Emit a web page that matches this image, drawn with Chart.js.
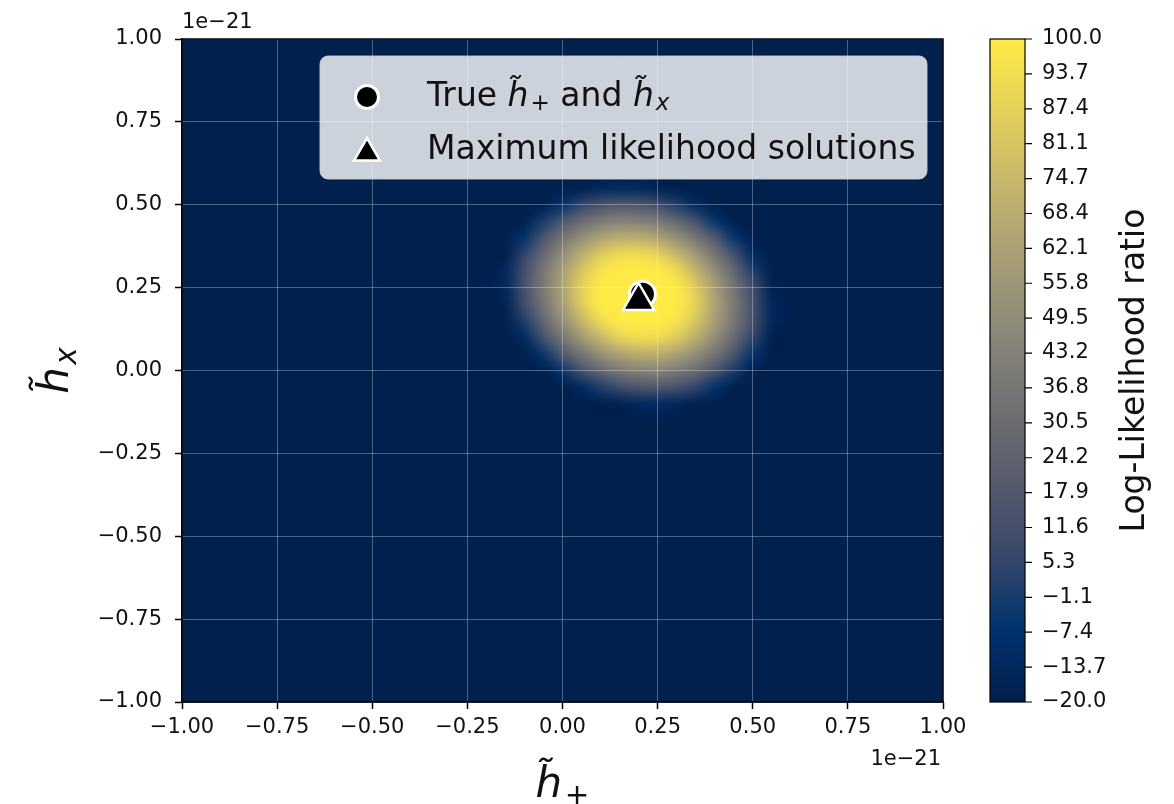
<!DOCTYPE html>
<html>
<head>
<meta charset="utf-8">
<script src="https://cdn.jsdelivr.net/npm/chart.js@4.4.1/dist/chart.umd.min.js"></script>
<style>
    html, body { margin: 0; padding: 0; background: #fff; }
    #wrap { width: 1174px; height: 804px; }
</style>
</head>
<body>
<div id="wrap"><canvas id="llrChart" width="1174" height="804"></canvas></div>
<script>
// sampled log-likelihood ratio map, axes in units of 1e-21
const hPlusGrid = [-0.20, -0.15, -0.10, -0.05, 0.00, 0.05, 0.10, 0.15, 0.20, 0.25, 0.30, 0.35, 0.40, 0.45, 0.50, 0.55, 0.60];
const hCrossGrid = [0.60, 0.55, 0.50, 0.45, 0.40, 0.35, 0.30, 0.25, 0.20, 0.15, 0.10, 0.05, 0.00, -0.05, -0.10, -0.15];
const logLikelihood = [
    [-20, -20, -20, -20, -20, -20, -20, -20, -20, -20, -20, -20, -20, -20, -20, -20, -20],
    [-20, -20, -20, -20, -20, -20, -15, -12, -14, -19, -20, -20, -20, -20, -20, -20, -20],
    [-20, -20, -20, -20, -7, 5, 13, 17, 16, 10, 0, -13, -20, -20, -20, -20, -20],
    [-20, -20, -20, -1, 16, 30, 39, 44, 43, 38, 27, 13, -5, -20, -20, -20, -20],
    [-20, -20, -6, 16, 35, 51, 62, 69, 69, 63, 52, 36, 18, -5, -20, -20, -20],
    [-20, -20, 5, 29, 50, 69, 84, 92, 93, 88, 74, 57, 36, 13, -12, -20, -20],
    [-20, -15, 12, 37, 60, 81, 96, 100, 100, 100, 92, 73, 51, 27, 1, -20, -20],
    [-20, -15, 13, 39, 63, 87, 100, 100, 100, 100, 100, 84, 60, 36, 10, -18, -20],
    [-20, -18, 10, 36, 60, 84, 100, 100, 100, 100, 100, 87, 63, 39, 13, -15, -20],
    [-20, -20, 1, 27, 51, 73, 92, 100, 100, 100, 96, 81, 60, 37, 12, -15, -20],
    [-20, -20, -12, 13, 36, 57, 74, 88, 93, 92, 84, 69, 50, 29, 5, -20, -20],
    [-20, -20, -20, -5, 18, 36, 52, 63, 69, 69, 62, 51, 35, 16, -6, -20, -20],
    [-20, -20, -20, -20, -5, 13, 27, 38, 43, 44, 39, 30, 16, -1, -20, -20, -20],
    [-20, -20, -20, -20, -20, -13, 0, 10, 16, 17, 13, 5, -7, -20, -20, -20, -20],
    [-20, -20, -20, -20, -20, -20, -20, -19, -14, -12, -15, -20, -20, -20, -20, -20, -20],
    [-20, -20, -20, -20, -20, -20, -20, -20, -20, -20, -20, -20, -20, -20, -20, -20, -20]
];

const trueHPlus = [0.21];
const trueHCross = [0.23];
const mlHPlus = [0.20];
const mlHCross = [0.21];

const axisTicks = [-1, -0.75, -0.5, -0.25, 0, 0.25, 0.5, 0.75, 1];
const axisTickLabels = ["\u22121.00", "\u22120.75", "\u22120.50", "\u22120.25", "0.00", "0.25", "0.50", "0.75", "1.00"];
const cbarTicks = [-20, -13.68, -7.37, -1.05, 5.26, 11.58, 17.89, 24.21, 30.53, 36.84, 43.16, 49.47, 55.79, 62.11, 68.42, 74.74, 81.05, 87.37, 93.68, 100];
const cbarTickLabels = ["\u221220.0", "\u221213.7", "\u22127.4", "\u22121.1", "5.3", "11.6", "17.9", "24.2", "30.5", "36.8", "43.2", "49.5", "55.8", "62.1", "68.4", "74.7", "81.1", "87.4", "93.7", "100.0"];
const cbarMin = -20;
const cbarMax = 100;

(function () {
    const FONT = "'DejaVu Sans', sans-serif";
    const cividis = ["#00204D", "#00336F", "#39486B", "#575C6D", "#707173", "#8A8779", "#A69D75", "#C4B56C", "#E4CF5B", "#FFEA46"];
    const cividisRgb = cividis.map(h => [1, 3, 5].map(i => parseInt(h.substr(i, 2), 16)));

    function colorFor(v) {
        let t = (v - cbarMin) / (cbarMax - cbarMin);
        t = Math.max(0, Math.min(1, t)) * (cividisRgb.length - 1);
        const i = Math.min(Math.floor(t), cividisRgb.length - 2);
        const f = t - i;
        const a = cividisRgb[i], b = cividisRgb[i + 1];
        return [0, 1, 2].map(k => Math.round(a[k] + (b[k] - a[k]) * f));
    }

    // split "h̃₊" style labels into runs: italic h with tilde, small subscripts
    function richRuns(text) {
        const runs = [];
        const re = /h\u0303|\u208A|\u2093|[^h\u208A\u2093]+|h/g;
        let m;
        while ((m = re.exec(text)) !== null) {
            const s = m[0];
            if (s === "h\u0303") runs.push({ t: s, italic: true, sub: false });
            else if (s === "\u208A") runs.push({ t: "+", italic: false, sub: true });
            else if (s === "\u2093") runs.push({ t: "x", italic: true, sub: true });
            else runs.push({ t: s, italic: false, sub: false });
        }
        return runs;
    }

    function runFont(r, size) {
        const sz = r.sub ? size * 0.7 : size;
        return (r.italic ? "italic " : "") + sz + "px " + FONT;
    }

    function richWidth(ctx, text, size) {
        let w = 0;
        richRuns(text).forEach(r => {
            ctx.font = runFont(r, size);
            w += ctx.measureText(r.t).width + (r.sub ? size * 0.06 : 0);
        });
        return w;
    }

    function drawRich(ctx, text, x, y, size) {
        richRuns(text).forEach(r => {
            ctx.font = runFont(r, size);
            if (r.sub) x += size * 0.06;
            ctx.fillText(r.t, x, y + (r.sub ? size * 0.2 : 0));
            x += ctx.measureText(r.t).width;
        });
    }

    // keep the plot box where the picture has it
    function noVerticalPad(s) { s.paddingTop = 0; s.paddingBottom = 0; }
    function noHorizontalPad(s) { s.paddingLeft = 0; s.paddingRight = 0; }

    const heatmapPlugin = {
        id: "heatmap",
        beforeDraw(chart) {
            const { ctx, chartArea: a } = chart;
            const xs = chart.scales.x, ys = chart.scales.y;
            const cols = hPlusGrid.length, rows = hCrossGrid.length;

            ctx.save();
            ctx.fillStyle = cividis[0];
            ctx.fillRect(a.left, a.top, a.right - a.left, a.bottom - a.top);

            const off = document.createElement("canvas");
            off.width = cols;
            off.height = rows;
            const octx = off.getContext("2d");
            const img = octx.createImageData(cols, rows);
            for (let r = 0; r < rows; r++) {
                for (let c = 0; c < cols; c++) {
                    const rgb = colorFor(logLikelihood[r][c]);
                    const p = (r * cols + c) * 4;
                    img.data[p] = rgb[0];
                    img.data[p + 1] = rgb[1];
                    img.data[p + 2] = rgb[2];
                    img.data[p + 3] = 255;
                }
            }
            octx.putImageData(img, 0, 0);

            const hx = (hPlusGrid[1] - hPlusGrid[0]) / 2;
            const hy = (hCrossGrid[0] - hCrossGrid[1]) / 2;
            const x0 = xs.getPixelForValue(hPlusGrid[0] - hx);
            const x1 = xs.getPixelForValue(hPlusGrid[cols - 1] + hx);
            const y0 = ys.getPixelForValue(hCrossGrid[0] + hy);
            const y1 = ys.getPixelForValue(hCrossGrid[rows - 1] - hy);

            ctx.beginPath();
            ctx.rect(a.left, a.top, a.right - a.left, a.bottom - a.top);
            ctx.clip();
            ctx.imageSmoothingEnabled = true;
            ctx.imageSmoothingQuality = "high";
            ctx.drawImage(off, x0, y0, x1 - x0, y1 - y0);
            ctx.restore();
        }
    };

    const decorPlugin = {
        id: "decor",
        afterDraw(chart) {
            const { ctx, chartArea: a } = chart;
            const cb = chart.scales.cb;
            ctx.save();

            // plot frame
            ctx.strokeStyle = "#000";
            ctx.lineWidth = 1.5;
            ctx.strokeRect(a.left, a.top, a.right - a.left, a.bottom - a.top);

            // colorbar
            const cbLeft = a.right + 47, cbWidth = 35;
            const top = cb.getPixelForValue(cbarMax), bot = cb.getPixelForValue(cbarMin);
            const grad = ctx.createLinearGradient(0, bot, 0, top);
            cividis.forEach((c, i) => grad.addColorStop(i / (cividis.length - 1), c));
            ctx.fillStyle = grad;
            ctx.fillRect(cbLeft, top, cbWidth, bot - top);
            ctx.lineWidth = 1.2;
            ctx.strokeRect(cbLeft, top, cbWidth, bot - top);
            ctx.beginPath();
            cbarTicks.forEach(v => {
                const py = cb.getPixelForValue(v);
                ctx.moveTo(cbLeft + cbWidth, py);
                ctx.lineTo(cbLeft + cbWidth + 7, py);
            });
            ctx.stroke();

            ctx.fillStyle = "#111";
            ctx.save();
            ctx.translate(1135, (top + bot) / 2);
            ctx.rotate(-Math.PI / 2);
            ctx.font = "33px " + FONT;
            ctx.textAlign = "center";
            ctx.textBaseline = "middle";
            ctx.fillText("Log-Likelihood ratio", 0, 0);
            ctx.restore();

            // offset texts
            ctx.font = "21px " + FONT;
            ctx.textBaseline = "middle";
            ctx.textAlign = "right";
            ctx.fillText("1e\u221221", a.right - 2, 760);
            ctx.textAlign = "left";
            ctx.fillText("1e\u221221", a.left, 23);

            // axis titles
            ctx.textAlign = "left";
            ctx.textBaseline = "alphabetic";
            const xTitle = "h\u0303\u208A";
            const xw = richWidth(ctx, xTitle, 42);
            drawRich(ctx, xTitle, (a.left + a.right) / 2 - xw / 2, 797, 42);
            const yTitle = "h\u0303\u2093";
            const yw = richWidth(ctx, yTitle, 42);
            ctx.save();
            ctx.translate(68, (a.top + a.bottom) / 2);
            ctx.rotate(-Math.PI / 2);
            drawRich(ctx, yTitle, -yw / 2, 0, 42);
            ctx.restore();

            // legend
            const lx = 320, ly = 56, lw = 607, lh = 123;
            ctx.beginPath();
            ctx.roundRect(lx, ly, lw, lh, 8);
            ctx.fillStyle = "rgba(255,255,255,0.8)";
            ctx.fill();
            ctx.strokeStyle = "rgba(204,204,204,0.9)";
            ctx.lineWidth = 1;
            ctx.stroke();

            const entries = [chart.data.datasets[0], chart.data.datasets[1]];
            const rowY = [97, 150];
            const legendRadius = [11.5, 15];
            entries.forEach((ds, i) => {
                ctx.fillStyle = ds.backgroundColor;
                ctx.strokeStyle = ds.borderColor;
                ctx.lineWidth = ds.borderWidth;
                Chart.helpers.drawPoint(ctx, {
                    pointStyle: ds.pointStyle,
                    radius: legendRadius[i],
                    rotation: 0,
                    borderWidth: ds.borderWidth
                }, 367, rowY[i] + (i === 1 ? 3 : 0));
                ctx.fillStyle = "#111";
                ctx.textBaseline = "middle";
                ctx.textAlign = "left";
                drawRich(ctx, ds.label, 427, rowY[i], 33);
            });

            ctx.restore();
        }
    };

    new Chart(document.getElementById("llrChart"), {
        type: "scatter",
        data: {
            datasets: [
                {
                    label: "True h\u0303\u208A and h\u0303\u2093",
                    data: trueHPlus.map((v, i) => ({ x: v, y: trueHCross[i] })),
                    pointStyle: "circle",
                    pointRadius: 13,
                    backgroundColor: "#000",
                    borderColor: "#fff",
                    borderWidth: 3,
                    order: 1
                },
                {
                    label: "Maximum likelihood solutions",
                    data: mlHPlus.map((v, i) => ({ x: v, y: mlHCross[i] })),
                    pointStyle: "triangle",
                    pointRadius: 18,
                    backgroundColor: "#000",
                    borderColor: "#fff",
                    borderWidth: 2.5,
                    order: 0
                }
            ]
        },
        options: {
            responsive: false,
            animation: false,
            devicePixelRatio: 1,
            layout: { padding: { top: 39, left: 0, right: 0, bottom: 0 } },
            plugins: {
                legend: { display: false },
                tooltip: { enabled: false }
            },
            scales: {
                x: {
                    type: "linear",
                    position: "bottom",
                    min: -1,
                    max: 1,
                    afterBuildTicks: s => { s.ticks = axisTicks.map(v => ({ value: v })); },
                    afterFit: s => { s.height = 102; noHorizontalPad(s); },
                    ticks: {
                        callback: (v, i) => axisTickLabels[i],
                        font: { family: FONT, size: 21 },
                        color: "#111",
                        padding: 6,
                        maxRotation: 0,
                        autoSkip: false
                    },
                    grid: {
                        color: "rgba(255,255,255,0.3)",
                        lineWidth: 1,
                        tickColor: "#000",
                        tickLength: 7,
                        tickWidth: 1.5
                    },
                    border: { display: true, color: "#000", width: 1.5 }
                },
                y: {
                    type: "linear",
                    position: "left",
                    min: -1,
                    max: 1,
                    afterBuildTicks: s => { s.ticks = axisTicks.map(v => ({ value: v })); },
                    afterFit: s => { s.width = 182; noVerticalPad(s); },
                    ticks: {
                        callback: (v, i) => axisTickLabels[i],
                        font: { family: FONT, size: 21 },
                        color: "#111",
                        padding: 13,
                        autoSkip: false
                    },
                    grid: {
                        color: "rgba(255,255,255,0.3)",
                        lineWidth: 1,
                        tickColor: "#000",
                        tickLength: 7,
                        tickWidth: 1.5
                    },
                    border: { display: true, color: "#000", width: 1.5 }
                },
                cb: {
                    type: "linear",
                    position: "right",
                    min: cbarMin,
                    max: cbarMax,
                    afterBuildTicks: s => { s.ticks = cbarTicks.map(v => ({ value: v })); },
                    afterFit: s => { s.width = 231; noVerticalPad(s); },
                    ticks: {
                        callback: (v, i) => cbarTickLabels[i],
                        font: { family: FONT, size: 21 },
                        color: "#111",
                        padding: 99,
                        autoSkip: false
                    },
                    grid: { display: false, drawTicks: false },
                    border: { display: false }
                }
            }
        },
        plugins: [heatmapPlugin, decorPlugin]
    });
})();
</script>
</body>
</html>
